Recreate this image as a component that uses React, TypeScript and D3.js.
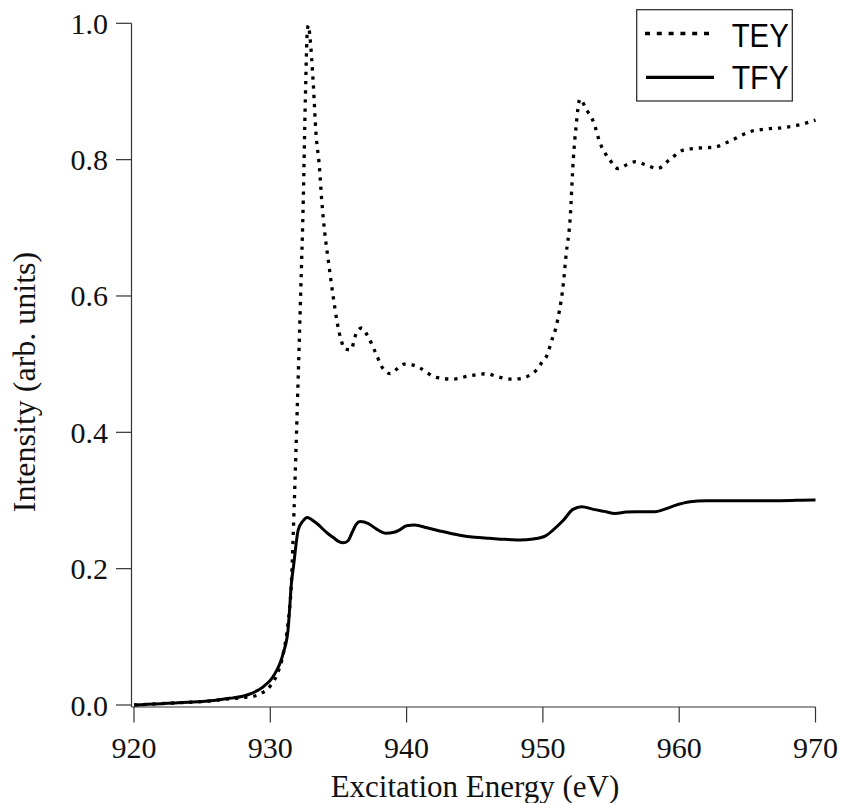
import React from "react";
import * as d3 from "d3";

const teyEnergy = [920, 921, 922, 923, 924, 925, 926, 927, 928, 929, 929.5, 930, 930.5, 931, 931.3, 931.55, 931.75, 932.0, 932.23, 932.42, 932.57, 932.72, 932.8, 932.91, 933.15, 933.35, 933.6, 933.77, 934.0, 934.25, 934.6, 934.9, 935.2, 935.5, 935.9, 936.3, 936.7, 937.1, 937.7, 938.25, 938.8, 939.3, 939.8, 940.4, 941.0, 942.1, 943.4, 944.65, 945.9, 946.6, 947.8, 948.4, 949.05, 949.55, 949.9, 950.3, 950.7, 950.95, 951.2, 951.5, 951.7, 952.0, 952.23, 952.43, 952.72, 953.2, 953.7, 954.2, 954.9, 955.5, 956.2, 956.8, 957.6, 958.4, 959.3, 960.3, 961.4, 962.5, 963.8, 965.2, 966.4, 967.6, 968.8, 970];
const teyValues = [0, 0.001, 0.002, 0.003, 0.004, 0.005, 0.007, 0.009, 0.011, 0.014, 0.019, 0.028, 0.045, 0.08, 0.12, 0.18, 0.29, 0.45, 0.604, 0.741, 0.887, 0.99, 0.997, 0.98, 0.912, 0.839, 0.79, 0.741, 0.692, 0.653, 0.601, 0.562, 0.535, 0.522, 0.521, 0.545, 0.553, 0.543, 0.518, 0.494, 0.486, 0.493, 0.5, 0.499, 0.494, 0.481, 0.478, 0.483, 0.486, 0.482, 0.478, 0.479, 0.484, 0.492, 0.502, 0.513, 0.538, 0.553, 0.577, 0.618, 0.66, 0.714, 0.8, 0.848, 0.889, 0.873, 0.856, 0.824, 0.8, 0.787, 0.793, 0.797, 0.792, 0.787, 0.8, 0.814, 0.817, 0.818, 0.828, 0.841, 0.845, 0.847, 0.851, 0.858];

const tfyEnergy = [920, 921, 922, 923, 924, 925, 926, 927, 928.3, 929.5, 930.2, 930.95, 931.3, 931.57, 931.7, 932.05, 932.4, 932.7, 933.3, 934.2, 934.6, 935.0, 935.4, 935.7, 936.0, 936.3, 936.6, 937.2, 937.8, 938.5, 939.0, 939.5, 940.0, 940.6, 941.5, 942.5, 943.9, 945.0, 946.1, 947.2, 948.3, 949.3, 950.2, 950.76, 951.5, 952.2, 952.85, 953.7, 954.5, 955.3, 956.1, 956.9, 958.2, 958.9, 959.6, 960.8, 962, 963.2, 965, 967.4, 969.8, 970];
const tfyValues = [0, 0.001, 0.002, 0.003, 0.004, 0.005, 0.007, 0.0098, 0.0147, 0.027, 0.0415, 0.076, 0.11, 0.183, 0.203, 0.257, 0.27, 0.275, 0.268, 0.252, 0.246, 0.240, 0.238, 0.241, 0.253, 0.265, 0.269, 0.266, 0.258, 0.252, 0.253, 0.257, 0.263, 0.264, 0.26, 0.255, 0.249, 0.246, 0.2445, 0.243, 0.242, 0.2435, 0.248, 0.257, 0.271, 0.287, 0.291, 0.287, 0.284, 0.281, 0.283, 0.2836, 0.2836, 0.287, 0.292, 0.298, 0.2995, 0.2997, 0.2997, 0.2997, 0.3007, 0.3007];

const xTicks = [920, 930, 940, 950, 960, 970];
const yTicks = [0.0, 0.2, 0.4, 0.6, 0.8, 1.0];
const seriesNames = ["TEY", "TFY"];
const xTitle = "Excitation Energy (eV)";
const yTitle = "Intensity (arb. units)";

const W = 841;
const H = 803;
const serif = "'Liberation Serif', 'Times New Roman', serif";
const sans = "'Liberation Sans', Arial, sans-serif";

export default function App() {
  const x = d3.scaleLinear().domain([920, 970]).range([134, 815.5]);
  const y = d3.scaleLinear().domain([0, 1]).range([705, 23.3]);
  const axisX = 131.5;
  const axisY = 707;

  const line = d3
    .line<[number, number]>()
    .x((d) => x(d[0]))
    .y((d) => y(d[1]))
    .curve(d3.curveMonotoneX);

  const tey = teyEnergy.map((e, i) => [e, teyValues[i]] as [number, number]);
  const tfy = tfyEnergy.map((e, i) => [e, tfyValues[i]] as [number, number]);
  const axisColor = "#333";

  return (
    <svg
      width={W}
      height={H}
      style={{ position: "absolute", left: 0, top: 0, background: "#fff" }}
    >
      {/* axes */}
      <line x1={axisX} y1={y(1)} x2={axisX} y2={axisY} stroke={axisColor} strokeWidth={1.2} />
      <line x1={axisX} y1={axisY} x2={x(970)} y2={axisY} stroke={axisColor} strokeWidth={1.2} />
      {yTicks.map((t) => (
        <g key={"y" + t}>
          <line x1={116} x2={axisX} y1={y(t)} y2={y(t)} stroke={axisColor} strokeWidth={1.2} />
          <text
            x={108}
            y={y(t)}
            textAnchor="end"
            dominantBaseline="central"
            fontFamily={serif}
            fontSize={30}
            fill="#111"
          >
            {t.toFixed(1)}
          </text>
        </g>
      ))}
      {xTicks.map((t) => (
        <g key={"x" + t}>
          <line x1={x(t)} x2={x(t)} y1={axisY} y2={722.5} stroke={axisColor} strokeWidth={1.2} />
          <text x={x(t)} y={758} textAnchor="middle" fontFamily={serif} fontSize={30} fill="#111">
            {t}
          </text>
        </g>
      ))}
      <text x={475} y={797} textAnchor="middle" fontFamily={serif} fontSize={31} fill="#111">
        {xTitle}
      </text>
      <text
        transform={`translate(35, 382) rotate(-90)`}
        textAnchor="middle"
        fontFamily={serif}
        fontSize={32}
        fill="#111"
      >
        {yTitle}
      </text>

      {/* curves */}
      <path d={line(tfy) || ""} fill="none" stroke="#000" strokeWidth={3} strokeLinejoin="round" />
      <path
        d={line(tey) || ""}
        fill="none"
        stroke="#000"
        strokeWidth={3.3}
        strokeDasharray="3.3 5.9"
      />

      {/* legend */}
      <rect x={636.7} y={9.7} width={155.6} height={91.3} fill="#fff" stroke="#222" strokeWidth={1.2} />
      <line x1={645} x2={709} y1={33.5} y2={33.5} stroke="#000" strokeWidth={3.3} strokeDasharray="5 6.8" />
      <line x1={646} x2={714} y1={77.3} y2={77.3} stroke="#000" strokeWidth={3.3} />
      <text x={731.7} y={46.7} fontFamily={sans} fontSize={34} textLength={57} lengthAdjust="spacingAndGlyphs" fill="#000">
        {seriesNames[0]}
      </text>
      <text x={731.7} y={88.5} fontFamily={sans} fontSize={34} textLength={57} lengthAdjust="spacingAndGlyphs" fill="#000">
        {seriesNames[1]}
      </text>
    </svg>
  );
}
